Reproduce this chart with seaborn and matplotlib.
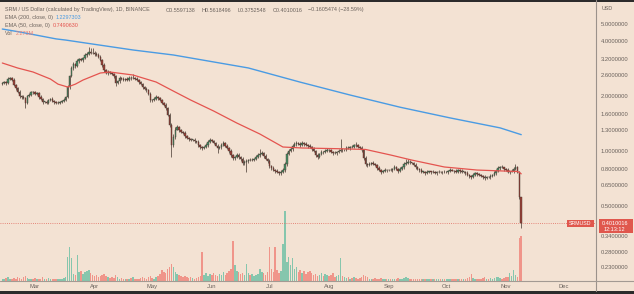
import numpy as np
import pandas as pd
import matplotlib
matplotlib.use("Agg")
import matplotlib.pyplot as plt
import matplotlib.dates as mdates
from matplotlib.patches import Rectangle
from matplotlib.lines import Line2D
import seaborn as sns

# ---------------- data ----------------
start_date = "2022-02-12"
first_open = 2.34
closes = [
    2.36, 2.39, 2.36, 2.49, 2.52, 2.46, 2.30, 2.22, 2.11, 2.00,
    1.98, 1.95, 1.84, 2.00, 2.03, 2.11, 2.10, 2.06, 2.08, 1.98,
    1.93, 1.86, 1.87, 1.84, 1.91, 1.93, 1.88, 1.86, 1.83, 1.84,
    1.86, 1.88, 1.91, 1.98, 2.25, 2.58, 2.86, 3.01, 2.93, 3.12,
    3.20, 3.16, 3.24, 3.37, 3.41, 3.50, 3.46, 3.45, 3.41, 3.37,
    3.29, 3.16, 2.97, 2.79, 2.68, 2.72, 2.68, 2.65, 2.58, 2.36,
    2.42, 2.52, 2.49, 2.46, 2.49, 2.45, 2.52, 2.51, 2.52, 2.49,
    2.46, 2.39, 2.33, 2.25, 2.19, 2.16, 2.06, 1.91, 1.90, 1.93,
    1.98, 1.95, 1.91, 1.84, 1.79, 1.72, 1.58, 1.39, 1.08, 1.19,
    1.31, 1.36, 1.30, 1.27, 1.26, 1.21, 1.18, 1.16, 1.15, 1.15,
    1.13, 1.12, 1.08, 1.05, 1.04, 1.05, 1.08, 1.12, 1.15, 1.13,
    1.11, 1.07, 1.04, 1.05, 1.08, 1.11, 1.07, 1.04, 1.00, 0.95,
    0.915, 0.927, 0.951, 0.927, 0.904, 0.859, 0.870, 0.881, 0.892, 0.888,
    0.895, 0.904, 0.927, 0.951, 0.962, 0.975, 0.939, 0.904, 0.881, 0.827,
    0.806, 0.786, 0.776, 0.767, 0.757, 0.767, 0.786, 0.848, 0.962, 1.000,
    1.026, 1.066, 1.093, 1.107, 1.093, 1.079, 1.107, 1.093, 1.079, 1.066,
    1.052, 1.026, 1.000, 0.951, 0.927, 0.962, 0.987, 0.982, 1.000, 1.013,
    1.008, 0.987, 0.975, 0.970, 0.987, 1.000, 1.013, 1.010, 1.016, 1.039,
    1.035, 1.052, 1.048, 1.079, 1.075, 1.052, 1.039, 1.013, 0.915, 0.848,
    0.838, 0.848, 0.859, 0.850, 0.838, 0.806, 0.786, 0.767, 0.776, 0.786,
    0.782, 0.789, 0.784, 0.796, 0.817, 0.796, 0.776, 0.796, 0.817, 0.848,
    0.859, 0.870, 0.866, 0.859, 0.838, 0.817, 0.796, 0.786, 0.767, 0.771,
    0.757, 0.767, 0.772, 0.763, 0.769, 0.757, 0.766, 0.771, 0.764, 0.768,
    0.762, 0.767, 0.776, 0.786, 0.781, 0.776, 0.767, 0.786, 0.776, 0.767,
    0.770, 0.757, 0.738, 0.729, 0.720, 0.738, 0.757, 0.747, 0.738, 0.729,
    0.720, 0.711, 0.720, 0.716, 0.729, 0.738, 0.757, 0.776, 0.806, 0.817,
    0.812, 0.796, 0.786, 0.767, 0.771, 0.776, 0.796, 0.817, 0.767, 0.5597138,
    0.4010016,
]
# upper / lower wick lengths, % beyond the candle body
up_wick = [
    1, 2, 1, 2, 1, 1, 2, 1, 1, 2,  1, 2, 2, 1, 2, 1, 1, 2, 1, 1,
    2, 1, 1, 2, 1, 1, 2, 1, 1, 2,  1, 1, 2, 1, 2, 2, 3, 2, 1, 3,
    2, 2, 1, 2, 3, 6, 5, 6, 3, 2,  2, 2, 1, 2, 1, 2, 1, 2, 1, 2,
    2, 3, 1, 2, 1, 2, 3, 2, 5, 1,  2, 1, 2, 1, 1, 2, 1, 2, 1, 2,
    2, 1, 2, 1, 1, 2, 1, 2, 3, 4,  3, 2, 1, 2, 1, 2, 1, 1, 2, 1,
    2, 1, 2, 1, 2, 1, 3, 2, 2, 1,  2, 1, 2, 1, 3, 2, 1, 2, 1, 2,
    2, 1, 2, 3, 1, 2, 2, 3, 1, 2,  2, 1, 3, 2, 7, 2, 1, 2, 1, 2,
    1, 2, 1, 2, 1, 2, 3, 3, 3, 2,  2, 2, 3, 2, 1, 2, 2, 1, 2, 1,
    2, 1, 2, 1, 2, 1, 2, 1, 2, 2,  1, 2, 1, 2, 1, 2, 15, 2, 1, 2,
    2, 1, 2, 1, 4, 2, 1, 2, 1, 2,  1, 2, 1, 2, 1, 1, 2, 1, 1, 2,
    1, 1, 2, 1, 2, 1, 1, 2, 1, 2,  5, 4, 2, 1, 1, 2, 1, 1, 2, 1,
    1, 2, 1, 1, 2, 1, 1, 2, 1, 1,  2, 1, 1, 2, 1, 1, 2, 1, 1, 2,
    1, 1, 2, 1, 1, 2, 1, 1, 2, 1,  1, 2, 1, 1, 2, 1, 2, 2, 2, 1,
    2, 1, 1, 2, 1, 2, 2, 4, 1, 1,  0.38,
]
dn_wick = [
    1, 1, 2, 1, 1, 2, 1, 2, 1, 2,  2, 1, 6, 2, 1, 1, 2, 1, 1, 2,
    1, 2, 1, 1, 2, 1, 1, 2, 1, 1,  2, 1, 1, 2, 1, 2, 1, 3, 2, 1,
    2, 1, 2, 1, 2, 1, 2, 1, 2, 1,  2, 1, 2, 2, 1, 2, 1, 1, 2, 3,
    1, 2, 1, 1, 2, 1, 1, 2, 1, 1,  1, 2, 1, 2, 1, 2, 1, 3, 2, 1,
    1, 2, 1, 2, 1, 2, 2, 3, 14, 3,  2, 1, 2, 1, 1, 2, 1, 2, 1, 1,
    2, 1, 2, 2, 3, 1, 1, 2, 1, 1,  2, 1, 6, 1, 2, 1, 2, 1, 2, 3,
    2, 2, 1, 2, 3, 2, 2, 12, 2, 1,  1, 2, 1, 1, 2, 1, 2, 1, 2, 2,
    2, 1, 2, 1, 3, 2, 1, 2, 2, 1,  1, 2, 1, 2, 1, 2, 1, 2, 1, 2,
    1, 2, 1, 3, 2, 1, 1, 2, 1, 1,  2, 1, 2, 1, 2, 1, 1, 2, 1, 1,
    1, 2, 1, 1, 2, 1, 1, 2, 2, 3,  2, 1, 1, 2, 1, 2, 1, 2, 1, 1,
    2, 1, 1, 2, 1, 1, 2, 1, 1, 2,  1, 1, 2, 1, 1, 2, 1, 2, 1, 1,
    2, 1, 1, 2, 1, 1, 2, 1, 1, 2,  1, 1, 2, 1, 1, 2, 1, 1, 2, 1,
    1, 2, 1, 2, 2, 1, 1, 2, 1, 1,  2, 2, 1, 1, 2, 1, 1, 2, 1, 2,
    1, 2, 1, 1, 2, 1, 2, 1, 1, 3,  6.4,
]
volume_m = [
    0.12, 0.10, 0.15, 0.18, 0.12, 0.10, 0.14, 0.12, 0.20, 0.15,
    0.12, 0.18, 0.25, 0.15, 0.12, 0.10, 0.12, 0.14, 0.10, 0.12,
    0.10, 0.18, 0.12, 0.10, 0.14, 0.12, 0.10, 0.08, 0.10, 0.08,
    0.10, 0.12, 0.15, 0.20, 1.20, 1.70, 1.15, 0.35, 0.30, 1.30,
    0.45, 0.50, 0.35, 0.45, 0.50, 0.55, 0.40, 0.30, 0.25, 0.30,
    0.20, 0.25, 0.30, 0.35, 0.25, 0.20, 0.15, 0.20, 0.15, 0.30,
    0.18, 0.12, 0.15, 0.10, 0.12, 0.10, 0.12, 0.15, 0.22, 0.12,
    0.10, 0.12, 0.15, 0.20, 0.15, 0.12, 0.20, 0.25, 0.15, 0.12,
    0.18, 0.25, 0.35, 0.55, 0.45, 0.40, 0.60, 0.70, 0.85, 0.70,
    0.45, 0.35, 0.30, 0.25, 0.20, 0.25, 0.18, 0.15, 0.20, 0.15,
    0.12, 0.15, 0.20, 0.25, 1.45, 0.30, 0.40, 0.25, 0.35, 0.30,
    0.40, 0.30, 0.25, 0.35, 0.30, 0.45, 0.30, 0.40, 0.50, 0.60,
    2.00, 0.80, 0.50, 0.45, 0.35, 0.40, 0.30, 0.85, 0.40, 0.30,
    0.35, 0.25, 0.30, 0.35, 0.62, 0.45, 0.40, 0.30, 0.45, 1.70,
    0.60, 0.45, 1.70, 0.55, 0.40, 0.50, 1.85, 3.50, 0.95, 1.20,
    0.80, 1.15, 0.60, 0.70, 0.45, 0.55, 0.40, 0.50, 0.35, 0.45,
    0.50, 0.40, 0.30, 0.35, 0.25, 0.30, 0.40, 0.25, 0.35, 0.30,
    0.25, 0.30, 0.40, 0.20, 0.25, 0.30, 1.15, 0.25, 0.18, 0.15,
    0.20, 0.12, 0.15, 0.20, 0.15, 0.12, 0.15, 0.20, 0.30, 0.25,
    0.18, 0.12, 0.10, 0.12, 0.15, 0.10, 0.12, 0.15, 0.10, 0.08,
    0.10, 0.12, 0.10, 0.08, 0.12, 0.10, 0.14, 0.10, 0.12, 0.15,
    0.18, 0.14, 0.10, 0.12, 0.10, 0.08, 0.10, 0.12, 0.10, 0.08,
    0.10, 0.12, 0.08, 0.10, 0.08, 0.12, 0.10, 0.08, 0.10, 0.12,
    0.10, 0.08, 0.10, 0.12, 0.10, 0.08, 0.10, 0.12, 0.10, 0.08,
    0.10, 0.12, 0.15, 0.20, 0.35, 0.15, 0.12, 0.10, 0.12, 0.10,
    0.15, 0.18, 0.12, 0.10, 0.14, 0.12, 0.15, 0.18, 0.20, 0.15,
    0.12, 0.15, 0.20, 0.18, 0.38, 0.25, 0.55, 0.30, 0.20, 2.15,
    2.273,
]
ema50_day = [0, 8, 16, 25, 29, 34, 38, 42, 51, 56, 68, 80, 90, 98, 110, 122,
             134, 146, 156, 174, 189, 202, 213, 230, 247, 268, 269, 270]
ema50_val = [3.045, 2.858, 2.717, 2.487, 2.33, 2.247, 2.33, 2.455, 2.683, 2.717,
             2.616, 2.394, 2.108, 1.906, 1.658, 1.425, 1.240, 1.052, 1.039, 1.030,
             1.020, 0.951, 0.892, 0.817, 0.786, 0.7715, 0.7632, 0.7490630]
ema200_day = [0, 9, 28, 33, 47, 68, 89, 128, 155, 181, 207, 233, 259, 270]
ema200_val = [4.68, 4.51, 4.13, 4.07, 3.87, 3.59, 3.37, 2.86, 2.39, 2.03,
              1.74, 1.52, 1.34, 1.2297303]
last_high, last_low = 0.5618496, 0.3752548
price_ticks = [5.0, 4.0, 3.2, 2.6, 2.0, 1.6, 1.3, 1.0, 0.8, 0.65, 0.5, 0.34, 0.28, 0.23]
month_labels = ["Mar", "Apr", "May", "Jun", "Jul", "Aug", "Sep", "Oct", "Nov", "Dec"]
month_starts = ["2022-03-01", "2022-04-01", "2022-05-01", "2022-06-01", "2022-07-01",
                "2022-08-01", "2022-09-01", "2022-10-01", "2022-11-01", "2022-12-01"]

# ---------------- style ----------------
BG = "#f3e2d3"
TXT = "#6a625c"
UP_BODY, DN_BODY = "#468f66", "#9c3f36"
WICK = "#45372f"
UP_VOL, DN_VOL = "#86c6ad", "#f0958a"
EMA50_C, EMA200_C = "#e4544f", "#4a9be3"

sns.set_theme(style="white")
plt.rcParams["font.family"] = ["Liberation Sans", "DejaVu Sans"]

W, H = 634, 294
fig = plt.figure(figsize=(W / 100, H / 100), dpi=100, facecolor=BG)

def fx(px):
    return px / W

def fy(py):
    return 1 - py / H

plot_top, plot_bot, plot_right = 3, 281, 596
ax_v = fig.add_axes([0, fy(plot_bot), fx(plot_right), (plot_bot - plot_top) / H])
ax = ax_v.twinx()
ax_v.set_facecolor(BG)
ax.patch.set_visible(False)

dates = pd.date_range(start_date, periods=len(closes), freq="D")
xs = mdates.date2num(dates)
c = np.array(closes)
o = np.concatenate([[first_open], c[:-1]])
hi = np.maximum(o, c) * (1 + np.array(up_wick) / 100)
lo = np.minimum(o, c) * (1 - np.array(dn_wick) / 100)
hi[-1], lo[-1] = last_high, last_low
up = c >= o

# volume
ax_v.bar(xs, volume_m, width=0.78, color=np.where(up, UP_VOL, DN_VOL), linewidth=0)
ax_v.set_ylim(0, 13.9)
ax_v.set_yticks([])
ax_v.tick_params(left=False, right=False, labelleft=False, labelright=False)

# candles
ax.set_yscale("log")
ax.vlines(xs, lo, hi, color=WICK, linewidth=0.5, zorder=3)
body_h = np.maximum(np.abs(c - o), np.minimum(o, c) * 0.007)
ax.bar(xs, body_h, bottom=np.minimum(o, c), width=0.8,
       color=np.where(up, UP_BODY, DN_BODY), edgecolor=WICK, linewidth=0.3, zorder=4)

# EMAs
ema50_df = pd.DataFrame({"date": dates[ema50_day], "ema": ema50_val})
ema200_df = pd.DataFrame({"date": dates[ema200_day], "ema": ema200_val})
sns.lineplot(data=ema200_df, x="date", y="ema", ax=ax, color=EMA200_C, linewidth=1.0,
             estimator=None, sort=False, zorder=5)
sns.lineplot(data=ema50_df, x="date", y="ema", ax=ax, color=EMA50_C, linewidth=0.9,
             estimator=None, sort=False, zorder=5)

# current price dotted line
ax.axhline(closes[-1], color="#e0685c", linewidth=0.6, linestyle=(0, (1, 1.6)), zorder=2)

x0 = xs[0]
ax.set_xlim(x0 - 1.2, x0 + 308.9)
ax.set_ylim(0.1931, 6.505)
ax.yaxis.set_minor_locator(matplotlib.ticker.NullLocator())
ax.set_yticks(price_ticks)
ax.set_yticklabels([f"{v:.7f}" for v in price_ticks])
ax.tick_params(axis="y", which="both", length=0, pad=3.6, labelsize=4.2, colors=TXT,
               right=True, labelright=True, left=False, labelleft=False)
ax_v.set_xticks(mdates.date2num(pd.to_datetime(month_starts)))
ax_v.set_xticklabels(month_labels)
ax_v.tick_params(axis="x", length=0, pad=2.4, labelsize=4.2, colors=TXT)
ax.set_xlabel("")
ax.set_ylabel("")
ax_v.set_xlabel("")
for a in (ax, ax_v):
    for s in a.spines.values():
        s.set_visible(False)
    a.grid(False)

# frame lines
fig.add_artist(Line2D([fx(plot_right), fx(plot_right)], [fy(291), fy(0)], color="#9b928b", lw=0.8))
fig.add_artist(Line2D([0, 1], [fy(plot_bot), fy(plot_bot)], color="#a39a93", lw=0.8))
fig.add_artist(Rectangle((0, 0), 1, fy(290.5), color="#2c2b2b", lw=0))
fig.add_artist(Rectangle((0, fy(1.5)), 1, 1.5 / H, color="#2c2b2b", lw=0))

# header texts, laid out left to right without overlap
hs = 3.9
fig.canvas.draw()
renderer = fig.canvas.get_renderer()

def row(py, parts):
    cur = None
    for ref_px, s, col in parts:
        px = ref_px if cur is None else max(ref_px, cur + 2.5)
        t = fig.text(fx(px), fy(py), s, fontsize=hs, color=col, va="center")
        cur = t.get_window_extent(renderer).x1

row(10, [(5, "SRM / US Dollar (calculated by TradingView), 1D, BINANCE", TXT),
         (166, "O0.5597138", TXT), (202, "H0.5618496", TXT), (237, "L0.3752548", TXT),
         (273, "C0.4010016", TXT), (308, "\u22120.1605474 (\u221228.59%)", TXT)])
row(17.5, [(5, "EMA (200, close, 0)", TXT), (54, "1.2297303", EMA200_C)])
row(25.5, [(5, "EMA (50, close, 0)", TXT), (53, "0.7490630", EMA50_C)])
row(33.5, [(5, "Vol", TXT), (16, "2.273M", "#ec7f74")])

# right axis title and price badges
fig.text(fx(602), fy(8), "USD", fontsize=hs, color=TXT, va="center")
fig.add_artist(Rectangle((fx(599), fy(233)), fx(34), 14 / H, color="#e0574d", lw=0))
fig.text(fx(601.5), fy(223.5), "0.4010016", fontsize=4.0, color="white", va="center")
fig.text(fx(604), fy(229.5), "12:13:12", fontsize=4.0, color="white", va="center")
fig.add_artist(Rectangle((fx(567), fy(227)), fx(27), 7.5 / H, color="#e0574d", lw=0))
fig.text(fx(580.5), fy(223.3), "SRMUSD", fontsize=3.8, color="white", va="center", ha="center")

fig.savefig("out.png", dpi=100, facecolor=BG)
